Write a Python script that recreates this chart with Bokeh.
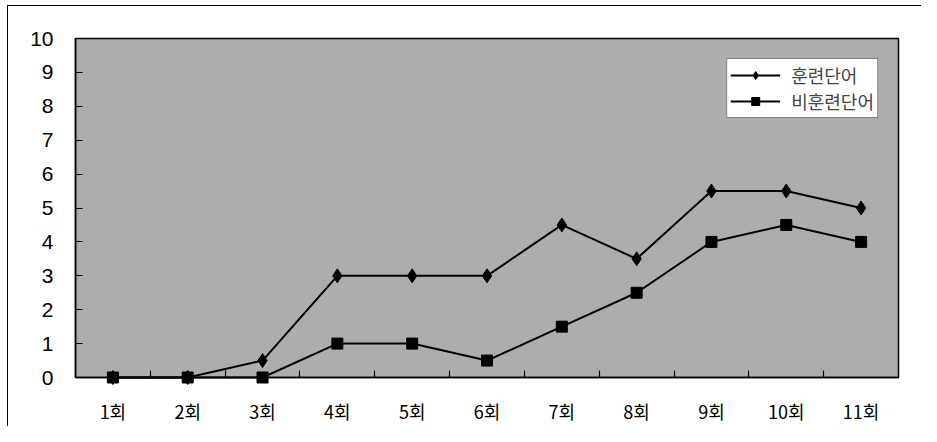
from bokeh.plotting import figure
from bokeh.models import FixedTicker, LinearAxis, Legend, LegendItem, Range1d
from bokeh.embed import file_html
from bokeh.resources import INLINE

categories = ["1회", "2회", "3회", "4회", "5회", "6회", "7회", "8회", "9회", "10회", "11회"]
trained = [0, 0, 0.5, 3, 3, 3, 4.5, 3.5, 5.5, 5.5, 5]
untrained = [0, 0, 0, 1, 1, 0.5, 1.5, 2.5, 4, 4.5, 4]
y_ticks = list(range(0, 11))
series_names = ["훈련단어", "비훈련단어"]

xs = list(range(1, len(categories) + 1))
boundaries = [x + 0.5 for x in xs[:-1]]

p = figure(width=921, height=426, output_backend="svg", toolbar_location=None,
           x_range=Range1d(0.5, len(categories) + 0.5), y_range=Range1d(0, 10),
           x_axis_location=None, y_axis_location=None,
           min_border_left=75, min_border_right=23, min_border_top=38, min_border_bottom=49)
p.styles = {
    "background-color": "white",
    "background-image": "linear-gradient(black, black), linear-gradient(black, black)",
    "background-size": "1px 100%, 100% 1px",
    "background-position": "7px 5px, 7px 5px",
    "background-repeat": "no-repeat",
}
p.background_fill_color = "#adadad"
p.border_fill_alpha = 0
p.outline_line_color = "black"
p.outline_line_width = 1.5
p.xgrid.visible = False
p.ygrid.visible = False

# y axis
yax = LinearAxis(ticker=FixedTicker(ticks=y_ticks))
yax.major_tick_in = 7
yax.major_tick_out = 0
yax.minor_tick_line_color = None
yax.axis_line_width = 1.5
yax.major_label_standoff = 22
yax.major_label_text_font = "Liberation Sans"
yax.major_label_text_font_size = "21px"
yax.major_label_text_color = "black"
p.add_layout(yax, "left")

# x axis: labels at category centres, ticks at category boundaries (minor)
xax = LinearAxis(ticker=FixedTicker(ticks=xs, minor_ticks=boundaries),
                 major_label_overrides={x: c for x, c in zip(xs, categories)})
xax.axis_line_width = 1.5
xax.major_tick_line_color = None
xax.major_tick_in = 0
xax.major_tick_out = 0
xax.minor_tick_in = 7
xax.minor_tick_out = 0
xax.minor_tick_line_color = "black"
xax.minor_tick_line_width = 1.2
xax.major_label_standoff = 20
xax.major_label_text_font = "Noto Sans CJK KR"
xax.major_label_text_font_size = "18px"
xax.major_label_text_color = "black"
p.add_layout(xax, "below")

l1 = p.line(xs, trained, line_color="black", line_width=2)
m1 = p.scatter(xs, trained, marker="diamond", size=14, fill_color="black", line_color="black")
l2 = p.line(xs, untrained, line_color="black", line_width=2)
m2 = p.scatter(xs, untrained, marker="square", size=11, fill_color="black", line_color="black")
for r in (l1, m1, l2, m2):
    r.level = "overlay"

legend = Legend(items=[LegendItem(label=series_names[0], renderers=[l1, m1]),
                       LegendItem(label=series_names[1], renderers=[l2, m2])],
                location="top_right")
legend.margin = 20
legend.padding = 3
legend.spacing = 0
legend.glyph_width = 50
legend.glyph_height = 20
legend.label_standoff = 11
legend.label_text_font = "Noto Sans CJK KR"
legend.label_text_font_size = "18px"
legend.border_line_color = "black"
legend.border_line_width = 1.5
legend.background_fill_color = "white"
legend.background_fill_alpha = 1
p.add_layout(legend)

open("out.html", "w").write(file_html(p, INLINE))
